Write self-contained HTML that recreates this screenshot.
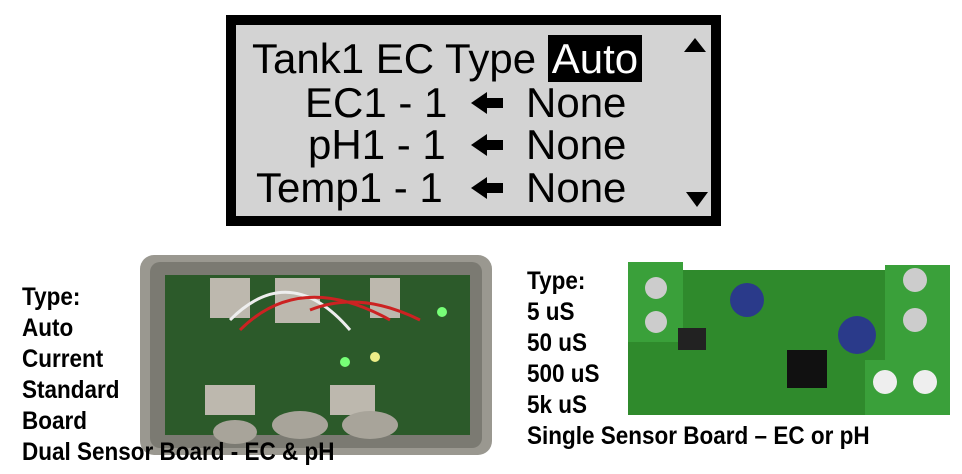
<!DOCTYPE html>
<html><head><style>
body{margin:0;width:962px;height:474px;background:#fff;position:relative;overflow:hidden;font-family:"Liberation Sans",sans-serif}
.lcd{position:absolute;left:226px;top:15px;width:475px;height:191px;border:10px solid #000;background:#d3d3d3}
.l{position:absolute;font-size:42px;color:#000;white-space:nowrap;line-height:42px}
.b{position:absolute;font-family:"Liberation Sans",sans-serif;font-weight:bold;font-size:25px;line-height:31px;color:#000;white-space:nowrap;transform:scaleX(0.9);transform-origin:0 0}
.arr{position:absolute;width:0;height:0;border-top:11px solid transparent;border-bottom:11px solid transparent;border-right:16px solid #000}
.arr:after{content:"";position:absolute;left:15px;top:-5px;width:17px;height:10px;background:#000}
</style></head><body>
<div class="lcd">
 <div class="l" style="left:16px;top:13px">Tank1 EC Type <span style="background:#000;color:#fff;padding:0 4px">Auto</span></div>
 <div class="l" style="left:69px;top:57px">EC1 - 1</div>
 <div class="l" style="left:72px;top:99px">pH1 - 1</div>
 <div class="l" style="left:20px;top:142px">Temp1 - 1</div>
 <div class="arr" style="left:235px;top:67px"></div>
 <div class="arr" style="left:235px;top:109px"></div>
 <div class="arr" style="left:235px;top:152px"></div>
 <div class="l" style="left:290px;top:57px">None</div>
 <div class="l" style="left:290px;top:99px">None</div>
 <div class="l" style="left:290px;top:142px">None</div>
 <div style="position:absolute;left:448px;top:13px;border-left:11px solid transparent;border-right:11px solid transparent;border-bottom:14px solid #000"></div>
 <div style="position:absolute;left:450px;top:167px;border-left:11px solid transparent;border-right:11px solid transparent;border-top:15px solid #000"></div>
</div>
<svg style="position:absolute;left:0;top:0" width="962" height="474">
 <rect x="140" y="255" width="352" height="200" rx="14" fill="#9a9890"/>
 <rect x="150" y="262" width="332" height="186" rx="10" fill="#7b7a72"/>
 <rect x="165" y="275" width="305" height="160" fill="#2c5a2a"/>
 <rect x="210" y="278" width="40" height="40" fill="#bdb8ae"/><rect x="275" y="278" width="45" height="45" fill="#bdb8ae"/><rect x="370" y="278" width="30" height="40" fill="#bdb8ae"/>
 <rect x="205" y="385" width="50" height="30" fill="#bdb8ae"/><rect x="330" y="385" width="45" height="30" fill="#bdb8ae"/>
 <ellipse cx="235" cy="432" rx="22" ry="12" fill="#a8a49a"/><ellipse cx="300" cy="425" rx="28" ry="14" fill="#a8a49a"/><ellipse cx="370" cy="425" rx="28" ry="14" fill="#a8a49a"/>
 <path d="M230 320 Q290 260 350 330" stroke="#eee" stroke-width="3" fill="none"/>
 <path d="M240 330 Q300 270 390 320" stroke="#c22" stroke-width="3" fill="none"/>
 <path d="M310 310 Q360 290 420 320" stroke="#c22" stroke-width="3" fill="none"/>
 <circle cx="345" cy="362" r="5" fill="#7f7"/><circle cx="375" cy="357" r="5" fill="#ee8"/><circle cx="442" cy="312" r="5" fill="#7f7"/>
 <rect x="628" y="270" width="320" height="145" fill="#2f8a2c"/>
 <rect x="628" y="262" width="55" height="80" fill="#3aa03a"/>
 <rect x="885" y="265" width="65" height="100" fill="#3aa03a"/>
 <rect x="865" y="360" width="85" height="55" fill="#3aa03a"/>
 <circle cx="656" cy="288" r="11" fill="#ccc"/><circle cx="656" cy="322" r="11" fill="#ccc"/>
 <circle cx="915" cy="280" r="12" fill="#ccc"/><circle cx="915" cy="320" r="12" fill="#ccc"/>
 <circle cx="885" cy="382" r="12" fill="#eee"/><circle cx="925" cy="382" r="12" fill="#eee"/>
 <circle cx="747" cy="300" r="17" fill="#2a3a8a"/><circle cx="857" cy="335" r="19" fill="#2a3a8a"/>
 <rect x="787" y="350" width="40" height="38" fill="#111"/><rect x="678" y="328" width="28" height="22" fill="#222"/>
</svg>
<div class="b" style="left:22px;top:282px">Type:<br>Auto<br>Current<br>Standard<br>Board<br>Dual Sensor Board - EC &amp; pH</div>
<div class="b" style="left:527px;top:266px">Type:<br>5 uS<br>50 uS<br>500 uS<br>5k uS<br>Single Sensor Board – EC or pH</div>
</body></html>
